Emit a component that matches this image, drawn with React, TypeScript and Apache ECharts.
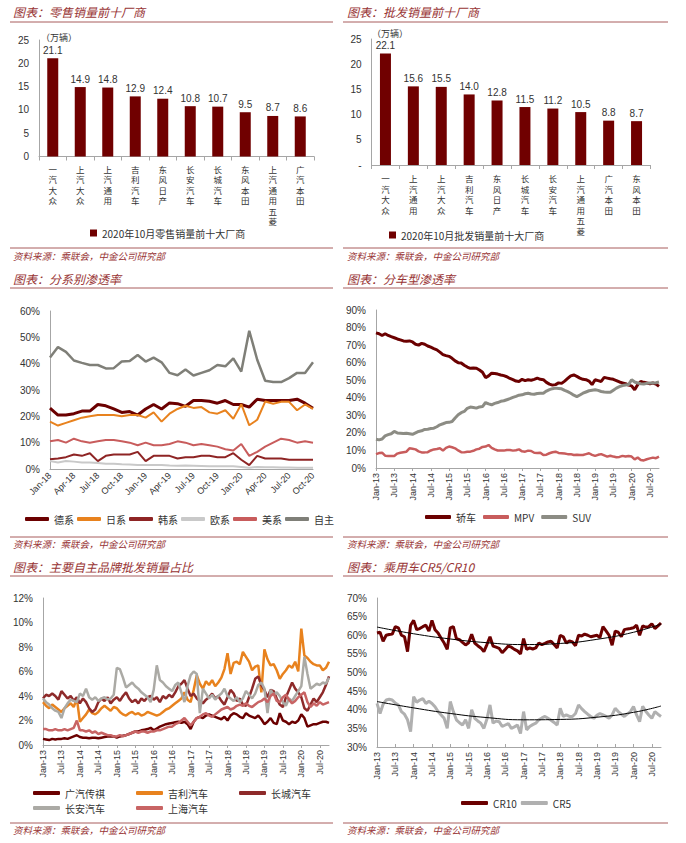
import React, { useEffect, useRef } from 'react';
import * as echarts from 'echarts';

// ---------- data ----------
const retailCats = ['一汽大众', '上汽大众', '上汽通用', '吉利汽车', '东风日产', '长安汽车', '长城汽车', '东风本田', '上汽通用五菱', '广汽本田'];
const retailVals = [21.1, 14.9, 14.8, 12.9, 12.4, 10.8, 10.7, 9.5, 8.7, 8.6];
const wholesaleCats = ['一汽大众', '上汽通用', '上汽大众', '吉利汽车', '东风日产', '长城汽车', '长安汽车', '上汽通用五菱', '广汽本田', '东风本田'];
const wholesaleVals = [22.1, 15.6, 15.5, 14.0, 12.8, 11.5, 11.2, 10.5, 8.8, 8.7];

const MON = ['Jan', 'Feb', 'Mar', 'Apr', 'May', 'Jun', 'Jul', 'Aug', 'Sep', 'Oct', 'Nov', 'Dec'];
function monthLabels(y0: number, n: number) {
  const out: string[] = [];
  for (let k = 0; k < n; k++) {
    const y = y0 + Math.floor(k / 12);
    out.push(MON[k % 12] + '-' + String(y % 100).padStart(2, '0'));
  }
  return out;
}
const cats18 = monthLabels(2018, 34);
const cats13 = monthLabels(2013, 94);

// 分系别渗透率 (%)
const deXi = [23.1, 20.5, 20.5, 21, 22, 22, 24.5, 24, 22.8, 21.5, 21.8, 20.5, 22.8, 24.5, 22.8, 25.1, 24.8, 23.8, 26, 26, 25.7, 25, 26, 24.5, 24.5, 23.5, 26.5, 26, 26, 26, 26, 26.5, 25, 23.1];
const riXi = [18, 16.5, 17.5, 18.5, 19.5, 20, 20.5, 20.5, 20.5, 20, 20.5, 20.5, 19.5, 21.5, 18, 21, 22.8, 24, 23.2, 23.5, 21.5, 21, 22.3, 19.1, 24.6, 16.6, 18.7, 25.6, 24.8, 25.5, 25.5, 22.3, 24.5, 22.8];
const hanXi = [3.7, 4, 4.5, 5.5, 5, 6, 3, 5, 5.5, 5.5, 5.5, 6.5, 3, 5, 5, 5, 4, 4.5, 4.5, 5, 5, 4.5, 4.5, 6, 3.5, 1.5, 5, 4, 4, 4, 3.5, 3.5, 3.5, 3.5];
const ouXi = [3, 2.5, 3, 2.8, 2.5, 2.5, 2.3, 2, 2, 1.8, 1.7, 1.5, 1.5, 1.5, 1.5, 1.3, 1.2, 1.3, 1.2, 1.1, 1, 1, 1, 1, 0.8, 0.5, 0.8, 0.7, 0.7, 0.6, 0.6, 0.5, 0.5, 0.5];
const meiXi = [10.5, 11, 10, 11.5, 10.5, 10, 10.5, 11, 11, 10.5, 10, 9, 10, 9, 9, 9.5, 10.5, 10, 9, 9.5, 9, 8.5, 7.5, 7, 9.5, 5, 6.5, 8.5, 10, 11.5, 11, 10, 10.5, 10];
const ziZhu = [42.3, 46.3, 44.5, 41.2, 40.3, 39.5, 39.5, 38.2, 38.3, 40.8, 41, 43.3, 40.8, 42.3, 40.5, 36.5, 35.6, 37.8, 35.5, 36.5, 37.5, 39.5, 39, 42, 37, 52.5, 41.5, 33.5, 33, 33, 34.5, 36.5, 36.5, 40.5];

// 分车型渗透率 (%)
const sedan = [
  77, 76.5, 75.5, 76.5, 75.5, 74.8, 74.2, 73.5, 73, 72.4,
  72.2, 72.4, 71.8, 70.5, 70, 71, 70.5, 69.5, 68.8, 68,
  67.3, 66, 64.6, 64, 63.6, 62.5, 61, 60, 59.8, 58.5,
  57.5, 56.8, 57, 56.8, 55.8, 54.5, 51.5, 52.5, 54, 53.8,
  53.5, 53, 52.6, 52, 51, 50.3, 49.5, 49.3, 50.5, 49.8,
  50.3, 50, 50.5, 51.2, 50.5, 50.3, 48.8, 47.8, 47.2, 47.5,
  48.5, 48.2, 49.5, 51, 52.5, 53, 52.2, 51.2, 50.5, 50.3,
  49.5, 47.5, 50.3, 49.8, 49.3, 51.6, 51.2, 50.8, 50.5, 49.8,
  49, 48.5, 48, 47.2, 46.8, 44.6, 47.5, 49.3, 48.8, 48.4,
  48, 48.4, 47.8, 46.5];
const suv = [
  16.4, 16, 16.5, 18.3, 19, 19.5, 20.8, 20, 19.8, 19.6,
  19.8, 19.5, 19.2, 20, 20.8, 21.2, 22, 22.1, 22.5, 22.7,
  23.5, 24.6, 25.2, 25.9, 26, 26.5, 28.5, 30.3, 31.5, 32.2,
  34, 34.7, 34.5, 34.1, 34.8, 35, 37.3, 36.5, 36, 36.8,
  37.3, 38, 38.3, 38.9, 39.5, 40.2, 40.8, 41.5, 41.7, 42.3,
  42.6, 42.2, 42, 42.4, 42.6, 42.6, 43.8, 44.6, 45.2, 45.5,
  45.3, 45.1, 44.2, 43.5, 42.6, 41.5, 40.7, 41.6, 42.6, 43.3,
  44, 44.3, 44.6, 44.2, 43.6, 43.3, 43.1, 43.1, 44.3, 45.5,
  46.3, 47, 47.3, 47.5, 50.3, 49, 48.4, 48, 47.8, 48.2,
  48.4, 48.4, 48.6, 49];
const mpv = [
  7.9, 8.5, 8.7, 7, 6.9, 6.9, 6.9, 8.2, 8.7, 9,
  9.3, 11.2, 11, 10.6, 9.5, 8.9, 8.9, 9, 10, 10.6,
  10.8, 11.2, 9.9, 11.5, 12.2, 11.8, 11.2, 10, 9, 8.9,
  9.3, 9.3, 9.8, 10.6, 11, 12, 12.2, 13.1, 11.5, 10.6,
  10, 9.9, 9.9, 10.3, 10.2, 9.9, 10.1, 10.6, 9.5, 9.3,
  9.9, 9.7, 8.7, 8.5, 8.7, 7.4, 7.6, 8.4, 9, 9.3,
  8.6, 8.4, 8.2, 7.9, 7.9, 7.4, 7.6, 7.4, 7.4, 7.9,
  8.4, 7.5, 6.9, 7.5, 7.9, 7.2, 6.5, 7, 6.5, 6.1,
  6.3, 6.9, 6.5, 6.8, 6.5, 4.9, 6, 4.6, 4.3, 5,
  5.5, 5.9, 5.6, 6.5];

// 主要自主品牌批发销量占比 (%)
const gac = [
  0.5, 0.45, 0.4, 0.5, 0.45, 0.5, 0.5, 0.55, 0.5, 0.6,
  0.7, 0.8, 0.65, 0.6, 0.6, 0.55, 0.6, 0.6, 0.55, 0.6,
  0.65, 0.7, 0.7, 0.7, 0.6, 0.7, 0.75, 0.8, 0.9, 1.0,
  1.1, 1.1, 1.2, 1.25, 1.3, 1.4, 1.2, 1.35, 1.5, 1.6,
  1.7, 1.75, 1.8, 1.85, 1.9, 1.8, 1.9, 1.7, 1.3, 1.9,
  2.2, 2.3, 2.2, 2.4, 2.5, 2.4, 2.3, 2.2, 2.1, 2.3,
  2.0, 2.4, 2.6, 2.5, 2.3, 2.2, 2.6, 2.4, 2.3, 2.2,
  2.4, 2.1, 1.7, 1.9, 2.2, 1.8, 1.7, 2.6, 2.0, 1.9,
  1.7, 1.9, 1.8, 2.0, 2.5, 2.2, 1.5, 1.6, 1.7, 1.7,
  1.8, 1.9, 1.9, 1.8];
const geely = [
  3.5, 3.2, 3.0, 3.3, 3.1, 2.9, 2.7, 3.0, 3.2, 3.4,
  3.1, 3.8, 1.9, 2.2, 2.5, 2.9, 2.6, 2.5, 2.7, 3.0,
  3.2, 3.0, 2.8, 3.1, 3.0, 2.7, 2.5, 2.4, 2.6, 2.7,
  2.5, 2.6, 2.4, 2.5, 2.7, 2.6, 2.5, 2.4, 2.5, 2.7,
  2.9, 3.0, 3.2, 3.4, 3.6, 3.8, 4.3, 3.7, 3.5, 4.5,
  5.7, 5.0, 4.6, 5.2, 4.9, 5.3, 4.8, 5.1, 5.5, 6.2,
  7.5, 5.8, 6.7, 6.8, 6.6, 7.6, 7.2, 6.8, 6.1, 6.4,
  6.5, 4.3, 7.8, 7.0, 6.5, 6.6, 6.1, 5.4, 5.8, 6.1,
  6.5, 6.3, 6.8, 6.0, 9.5, 7.3, 7.1, 6.8, 6.6, 6.5,
  6.5, 6.1, 6.3, 6.8];
const greatWall = [
  3.8, 4.1, 4.0, 4.2, 4.0, 3.7, 4.4, 4.1, 3.8, 4.0,
  3.6, 3.9, 3.4, 3.8, 3.5, 3.0, 2.7, 2.9, 3.5, 3.8,
  3.6, 3.9, 3.4, 3.7, 3.9, 3.6, 4.0, 4.3, 3.8, 3.5,
  3.7, 3.4, 3.8, 3.6, 3.9, 4.0, 3.7, 3.9, 3.5, 4.0,
  3.8, 4.1, 3.9, 4.3, 4.8, 5.0, 5.3, 4.6, 4.0, 4.2,
  3.8, 3.6, 3.4, 3.7, 3.9, 4.2, 3.8, 4.0, 3.6, 3.3,
  3.9, 4.5, 4.2, 3.6, 3.8, 3.3, 3.2, 3.9, 4.6, 5.4,
  5.6, 4.9, 4.5, 3.9, 4.5, 4.4, 3.8, 3.3, 3.1, 3.9,
  4.5, 5.1, 4.6, 4.3, 3.9, 3.0, 2.8, 3.3, 3.8, 3.5,
  3.9, 4.3, 4.9, 5.6];
const changan = [
  3.8, 3.5, 3.3, 3.0, 2.8, 2.7, 2.2, 3.0, 3.4, 3.7,
  3.6, 3.5, 4.2, 4.0, 4.6, 3.9, 3.7, 3.9, 3.6, 3.8,
  3.9, 3.7, 3.8, 4.1, 6.3, 6.2, 5.5, 4.7, 4.9, 5.1,
  4.8, 4.6, 4.3, 4.1, 3.9, 3.5, 4.5, 6.5, 5.3, 5.1,
  4.8, 4.6, 4.4, 4.9, 5.1, 4.3, 3.5, 4.8, 5.7, 6.0,
  5.8, 2.6, 4.6, 4.2, 3.8, 4.1, 3.7, 4.0, 4.2, 4.6,
  4.0, 3.8, 3.6, 3.9, 3.5, 3.8, 4.4, 4.1, 3.8, 4.2,
  4.9, 5.1, 4.6, 2.6, 4.5, 4.1, 4.3, 4.0, 3.5, 3.2,
  3.8, 3.6, 4.0, 4.4, 4.8, 7.2, 5.8, 4.6, 4.8, 5.0,
  4.9, 5.1, 5.0, 5.5];
const saic = [
  1.3, 1.3, 1.2, 1.2, 1.3, 1.2, 1.2, 1.3, 1.2, 1.3,
  1.4, 2.0, 1.2, 1.2, 1.1, 1.2, 1.0, 1.1, 0.9, 1.0,
  0.9, 0.8, 0.8, 0.7, 0.7, 0.8, 0.7, 0.8, 0.9, 1.0,
  1.1, 1.0, 1.1, 1.1, 1.0, 1.1, 1.1, 1.2, 1.2, 1.3,
  1.4, 1.5, 1.5, 1.7, 1.8, 2.0, 2.2, 1.9, 1.6, 1.9,
  2.2, 2.3, 2.5, 2.6, 2.4, 2.3, 2.5, 2.7, 2.9, 3.0,
  3.1, 2.9, 3.0, 3.2, 3.3, 3.2, 3.4, 3.2, 3.1, 3.3,
  3.5, 3.6, 3.8, 3.5, 4.0, 4.2, 3.6, 3.5, 3.9, 4.1,
  3.7, 3.4, 3.6, 3.9, 4.1, 4.3, 3.5, 3.1, 3.4, 3.2,
  3.5, 3.3, 3.4, 3.5];

// 乘用车 CR5 / CR10 (%)
const cr10 = [
  60.6, 60.8, 58.4, 60, 60.2, 60.3, 62.3, 62, 60, 59.6,
  55.6, 62.7, 64, 61.5, 61.8, 62.3, 62.7, 61.1, 64, 61.5,
  60.6, 59.2, 57.9, 56.2, 62, 62.3, 59.1, 58.8, 58.1, 57.4,
  58, 60.3, 57.9, 57.2, 56.6, 55.6, 57.5, 59.6, 57.1, 56.8,
  56.5, 55.3, 56.2, 57.1, 56.8, 56.2, 55.8, 55, 59.1, 56.2,
  56.6, 56.3, 56.6, 57.9, 57.5, 57.8, 58.2, 58.4, 57.5, 56.6,
  60, 59.6, 57.9, 58.5, 58.2, 57.2, 60, 59.8, 60.3, 60,
  59.6, 59.8, 60, 59.4, 62.3, 61.2, 60, 57.3, 61.1, 60.8,
  59.6, 61.5, 61.7, 61.8, 62, 62.7, 60, 62.5, 62.2, 62.3,
  63.1, 61.8, 62.5, 63.3];
const cr5 = [
  41.7, 39, 41.5, 42.6, 42.8, 42.6, 41.8, 41.3, 39.5, 38.8,
  37.3, 34.1, 43.5, 42, 42.6, 43, 41.7, 42.3, 41.7, 40.8,
  39.5, 38.6, 37.7, 35, 42.2, 39.5, 37.3, 36.5, 35.9, 37.3,
  35, 40, 37.7, 37, 36.4, 35, 37.5, 41.3, 36.4, 37,
  36.8, 35.5, 35.9, 36.3, 35, 35.4, 35.9, 33.6, 39.5, 34.6,
  35.5, 36, 36.4, 37.3, 37.8, 38.2, 37.7, 37.2, 36.6, 35.9,
  40.4, 38.2, 38.6, 38.2, 38.2, 39, 41.3, 40.3, 39.5, 38.8,
  38.2, 37.7, 38.5, 39, 38.6, 38.2, 37.7, 38.6, 40.4, 39.5,
  38.8, 38.2, 38.9, 39.5, 40.9, 38.6, 36.8, 40.9, 39.6, 38.6,
  37.7, 39.5, 38.8, 38.2];
// trend lines (month index, value)
const cr10Trend = [[0, 62.2], [12, 60.4], [24, 59.0], [36, 58.0], [48, 57.5], [60, 57.8], [72, 58.9], [84, 60.8], [93, 63.0]];
const cr5Trend = [[0, 42.2], [12, 40.5], [24, 39.0], [36, 37.9], [48, 37.3], [60, 37.4], [72, 38.0], [84, 39.3], [93, 41.0]];

const retailName = '2020年10月零售销量前十大厂商';
const wholesaleName = '2020年10月批发销量前十大厂商';

// ---------- styles ----------
const FONT = '"Liberation Sans", "Noto Sans CJK SC", sans-serif';
const CJK = '"Noto Sans CJK SC", sans-serif';
const TITLE_C = '#983434';
const RULE_C = '#a85c5c';
const AXIS_C = '#a6a6a6';
const TXT = '#333333';

function valueAxis(gi: number, min: number, max: number, interval: number, fmt: any) {
  return {
    type: 'value', gridIndex: gi, min, max, interval,
    splitLine: { show: false },
    axisLine: { show: true, lineStyle: { color: AXIS_C } },
    axisTick: { show: false },
    axisLabel: { fontSize: 10, color: TXT, fontFamily: FONT, margin: 10, formatter: fmt },
  };
}

function barCatAxis(gi: number, data: string[], margin: number) {
  return {
    type: 'category', gridIndex: gi, data,
    axisLine: { show: true, lineStyle: { color: AXIS_C } },
    axisTick: { show: true, length: 4, lineStyle: { color: AXIS_C } },
    axisLabel: {
      interval: 0, margin, fontSize: 8.5, lineHeight: 10.5, color: TXT, fontFamily: CJK,
      formatter: (v: string) => v.split('').join('\n'),
    },
  };
}

function monthAxis(gi: number, data: string[], every: number, rotate: number, ticks: boolean, inside: boolean) {
  return {
    type: 'category', gridIndex: gi, data, boundaryGap: false,
    axisLine: { show: true, lineStyle: { color: AXIS_C } },
    axisTick: { show: ticks, interval: every, length: 3, inside, lineStyle: { color: AXIS_C } },
    axisLabel: { interval: every, rotate, fontSize: 9, color: TXT, fontFamily: FONT, margin: 5 },
  };
}

function line(name: string, data: any[], color: string, width: number, axis: number, extra: any = {}) {
  return {
    name, type: 'line', data, xAxisIndex: axis, yAxisIndex: axis,
    symbol: 'none', showSymbol: false,
    lineStyle: { color, width }, itemStyle: { color },
    ...extra,
  };
}

function bar(name: string, data: number[], axis: number) {
  return {
    name, type: 'bar', data, xAxisIndex: axis, yAxisIndex: axis, barWidth: 11,
    itemStyle: { color: '#700000' },
    label: {
      show: true, position: 'top', distance: 3, fontSize: 10, color: TXT, fontFamily: FONT,
      formatter: (p: any) => Number(p.value).toFixed(1),
    },
  };
}

function legend(names: string[], left: number, top: number, opts: any) {
  return {
    data: names, left, top, padding: 0, orient: 'horizontal',
    textStyle: { fontSize: 10, color: TXT, fontFamily: CJK },
    selectedMode: false,
    ...opts,
  };
}

const panels = [
  { x: 13, l1: 10, l2: 333, ty: 13, tl: 22, sl: 248, sy: 257, title: '图表：零售销量前十厂商' },
  { x: 347, l1: 343, l2: 668, ty: 13, tl: 22, sl: 248, sy: 257, title: '图表：批发销量前十厂商' },
  { x: 13, l1: 10, l2: 333, ty: 280, tl: 288, sl: 537, sy: 545, title: '图表：分系别渗透率' },
  { x: 347, l1: 343, l2: 668, ty: 280, tl: 288, sl: 537, sy: 545, title: '图表：分车型渗透率' },
  { x: 13, l1: 10, l2: 333, ty: 568, tl: 576, sl: 823, sy: 831, title: '图表：主要自主品牌批发销量占比' },
  { x: 347, l1: 343, l2: 668, ty: 568, tl: 576, sl: 823, sy: 831, title: '图表：乘用车CR5/CR10' },
];

function buildGraphics() {
  const g: any[] = [];
  panels.forEach((p) => {
    g.push({
      type: 'text', left: p.x, top: p.ty - 8, silent: true,
      style: { text: p.title, fontSize: 12, fontStyle: 'italic', fill: TITLE_C, fontFamily: CJK },
    });
    g.push({ type: 'line', silent: true, shape: { x1: p.l1, y1: p.tl, x2: p.l2, y2: p.tl }, style: { stroke: RULE_C, lineWidth: 1 } });
    g.push({ type: 'line', silent: true, shape: { x1: p.l1, y1: p.sl, x2: p.l2, y2: p.sl }, style: { stroke: RULE_C, lineWidth: 1 } });
    g.push({
      type: 'text', left: p.x, top: p.sy - 6, silent: true,
      style: { text: '资料来源：乘联会，中金公司研究部', fontSize: 9.5, fontStyle: 'italic', fill: TITLE_C, fontFamily: CJK },
    });
  });
  g.push({ type: 'text', left: 41, top: 33, silent: true, style: { text: '（万辆）', fontSize: 9, fill: TXT, fontFamily: CJK } });
  g.push({ type: 'text', left: 372, top: 29, silent: true, style: { text: '（万辆）', fontSize: 9, fill: TXT, fontFamily: CJK } });
  return g;
}

export default function App() {
  const ref = useRef<HTMLDivElement>(null);
  useEffect(() => {
    if (!ref.current) return;
    const chart = echarts.init(ref.current, undefined, { renderer: 'svg' });
    const pct = '{value}%';
    const lineLegend = { icon: 'roundRect', itemHeight: 4 };
    chart.setOption({
      animation: false,
      backgroundColor: '#ffffff',
      grid: [
        { left: 39, top: 40, width: 275, height: 116.5 },
        { left: 371.5, top: 39, width: 279, height: 126 },
        { left: 50, top: 311, width: 263, height: 158 },
        { left: 376, top: 310, width: 283, height: 158 },
        { left: 43, top: 598, width: 286, height: 147 },
        { left: 377, top: 598, width: 284, height: 149 },
      ],
      xAxis: [
        barCatAxis(0, retailCats, 7),
        barCatAxis(1, wholesaleCats, 8),
        monthAxis(2, cats18, 2, 45, false, false),
        monthAxis(3, cats13, 5, 90, true, false),
        monthAxis(4, cats13, 5, 90, true, false),
        monthAxis(5, cats13, 5, 90, true, true),
      ],
      yAxis: [
        valueAxis(0, 0, 25, 5, '{value}'),
        valueAxis(1, 0, 25, 5, (v: number) => (v === 0 ? '-' : String(v))),
        valueAxis(2, 0, 60, 10, pct),
        valueAxis(3, 0, 90, 10, pct),
        valueAxis(4, 0, 12, 2, pct),
        valueAxis(5, 30, 70, 5, pct),
      ],
      legend: [
        legend([retailName], 90, 228, { icon: 'rect', itemWidth: 7, itemHeight: 7 }),
        legend([wholesaleName], 389, 230, { icon: 'rect', itemWidth: 7, itemHeight: 7 }),
        legend(['德系', '日系', '韩系', '欧系', '美系', '自主'], 25, 514, { ...lineLegend, itemWidth: 24, itemGap: 3 }),
        legend(['轿车', 'MPV', 'SUV'], 425, 512, { ...lineLegend, itemWidth: 26, itemGap: 7 }),
        legend(['广汽传祺', '吉利汽车', '长城汽车'], 33, 788, { ...lineLegend, itemWidth: 27, itemGap: 31 }),
        legend(['长安汽车', '上海汽车'], 33, 803, { ...lineLegend, itemWidth: 27, itemGap: 31 }),
        legend(['CR10', 'CR5'], 461, 798, { ...lineLegend, itemWidth: 27, itemGap: 4 }),
      ],
      graphic: buildGraphics(),
      series: [
        bar(retailName, retailVals, 0),
        bar(wholesaleName, wholesaleVals, 1),
        line('德系', deXi, '#6b0000', 3, 2),
        line('日系', riXi, '#e8821e', 2, 2),
        line('韩系', hanXi, '#8e2424', 2, 2),
        line('欧系', ouXi, '#c9c9c9', 2, 2),
        line('美系', meiXi, '#c85c5c', 2, 2),
        line('自主', ziZhu, '#7f7f78', 2.5, 2),
        line('轿车', sedan, '#6b0000', 3, 3),
        line('MPV', mpv, '#c85c5c', 2.5, 3),
        line('SUV', suv, '#8c8c84', 3, 3),
        line('广汽传祺', gac, '#6b0000', 2.5, 4),
        line('吉利汽车', geely, '#e8821e', 2.5, 4),
        line('长城汽车', greatWall, '#8e2a2a', 2.5, 4),
        line('长安汽车', changan, '#abaaa5', 2.5, 4),
        line('上海汽车', saic, '#c86464', 2.5, 4),
        line('CR10', cr10, '#6b0000', 3, 5),
        line('CR5', cr5, '#b0b0b0', 3, 5),
        line('CR10趋势', cr10Trend, '#000000', 1, 5, { smooth: true, z: 5 }),
        line('CR5趋势', cr5Trend, '#000000', 1, 5, { smooth: true, z: 5 }),
      ],
    });
    return () => chart.dispose();
  }, []);
  return (
    <div
      ref={ref}
      style={{ position: 'absolute', left: 0, top: 0, width: 686, height: 843, background: '#fff' }}
    />
  );
}
